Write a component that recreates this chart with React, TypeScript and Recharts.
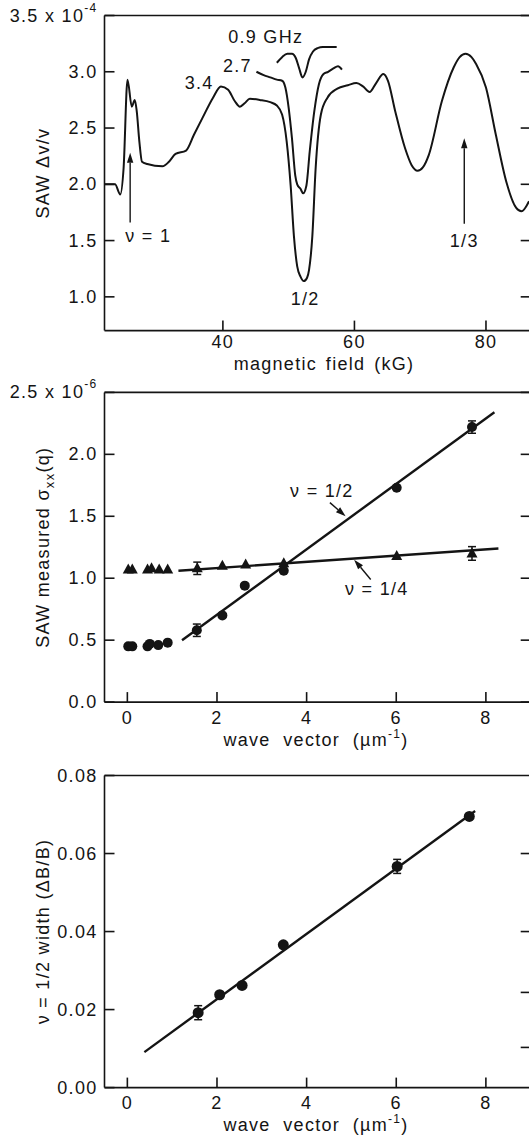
import type { ReactNode } from "react";
import {
  ComposedChart,
  ErrorBar,
  Line,
  ReferenceDot,
  ReferenceLine,
  Scatter,
  XAxis,
  YAxis,
} from "recharts";

const INK = "#141414";
const FONT = "'Liberation Sans', Arial, Helvetica, sans-serif";
const TXT = { fontFamily: FONT, fontSize: 18, letterSpacing: 1.3, fill: INK };
const TICK_LEN = 10;

// ---- top panel: SAW velocity shift vs magnetic field
const fieldTicks = [40, 60, 80];
const shiftTicks = [1.0, 1.5, 2.0, 2.5, 3.0, 3.5];

const field34 = [22.05, 23.6, 24.4, 24.9, 25.5, 26.15, 26.6, 26.9, 27.3, 27.7, 28.5, 30.8, 31.8, 32.8, 34.4, 35.6, 36.9, 38.5, 39.7, 40.8, 41.8, 42.6, 43.3, 44.1, 45.6, 47.2, 48.2, 49.0, 49.7, 50.3, 50.8, 51.3, 51.8, 52.3, 52.8, 53.1, 53.6, 54.1, 54.9, 55.9, 57.4, 59.0, 60.3, 61.3, 62.3, 63.3, 64.4, 65.1, 66.2, 67.7, 68.7, 69.6, 70.4, 71.3, 73.3, 75.1, 76.0, 76.9, 77.8, 78.5, 80.0, 81.5, 83.1, 84.6, 85.4, 86.55];
const shift34 = [2.0, 2.0, 1.91, 2.14, 2.93, 2.69, 2.75, 2.65, 2.38, 2.2, 2.18, 2.16, 2.2, 2.27, 2.3, 2.44, 2.59, 2.77, 2.87, 2.84, 2.74, 2.69, 2.72, 2.76, 2.75, 2.73, 2.7, 2.62, 2.38, 1.99, 1.54, 1.27, 1.18, 1.14, 1.17, 1.24, 1.54, 2.14, 2.62, 2.77, 2.85, 2.88, 2.9, 2.87, 2.82, 2.9, 2.98, 2.92, 2.65, 2.32, 2.17, 2.12, 2.15, 2.26, 2.74, 3.04, 3.13, 3.16, 3.13, 3.07, 2.86, 2.44, 2.02, 1.79, 1.76, 1.85];

const field27 = [45.1, 46.2, 47.2, 48.2, 49.0, 49.5, 50.0, 50.5, 51.0, 51.3, 51.8, 52.2, 52.7, 53.2, 53.9, 54.6, 55.3, 56.0, 56.8, 57.5, 58.1];
const shift27 = [3.0, 2.97, 2.95, 2.93, 2.92, 2.86, 2.68, 2.41, 2.08, 2.0, 1.96, 1.92, 1.99, 2.29, 2.65, 2.89, 2.98, 3.0, 3.03, 3.05, 3.02];

const field09 = [48.2, 49.0, 49.8, 50.5, 51.1, 51.6, 52.1, 52.6, 53.1, 53.7, 54.4, 55.2, 57.3];
const shift09 = [3.08, 3.13, 3.16, 3.16, 3.12, 3.03, 2.95, 3.0, 3.11, 3.18, 3.21, 3.22, 3.22];

// ---- middle panel: sigma_xx vs wave vector
const qTicks = [0, 2, 4, 6, 8];
const sigmaTicks = [0, 0.5, 1.0, 1.5, 2.0, 2.5];

const qHalf = [0.02, 0.11, 0.45, 0.5, 0.69, 0.9, 1.55, 2.12, 2.62, 3.49, 6.01, 7.69];
const sigmaHalf = [0.45, 0.45, 0.45, 0.47, 0.46, 0.48, 0.58, 0.7, 0.94, 1.06, 1.73, 2.22];
const errHalf = [0, 0, 0, 0, 0, 0, 0.05, 0, 0, 0, 0, 0.05];

const qQuarter = [0.02, 0.11, 0.45, 0.54, 0.71, 0.9, 1.56, 2.12, 2.64, 3.49, 6.01, 7.69];
const sigmaQuarter = [1.07, 1.07, 1.07, 1.08, 1.07, 1.07, 1.08, 1.1, 1.11, 1.12, 1.18, 1.2];
const errQuarter = [0, 0, 0, 0, 0, 0, 0.05, 0, 0, 0, 0, 0.055];

const fitHalfQ = [1.22, 8.19];
const fitHalfS = [0.5, 2.34];
const fitQuarterQ = [1.14, 8.28];
const fitQuarterS = [1.06, 1.24];

// ---- bottom panel: nu=1/2 width vs wave vector
const widthTicks = [0, 0.02, 0.04, 0.06, 0.08];
const widthTicksRight = [0.0103, 0.0244, 0.04, 0.06];

const qWidth = [1.58, 2.06, 2.56, 3.48, 6.02, 7.63];
const widthVals = [0.0192, 0.0238, 0.0262, 0.0366, 0.0567, 0.0695];
const widthErr = [0.0018, 0, 0, 0, 0.0018, 0];
const fitWidthQ = [0.38, 7.76];
const fitWidthW = [0.0091, 0.0709];

type Pt = { x: number; y: number; e: number };
const zip = (xs: number[], ys: number[], es?: number[]): Pt[] =>
  xs.map((x, i) => ({ x, y: ys[i], e: es ? es[i] : 0 }));

// annotations, in data units
const p1Notes = [
  { text: "0.9 GHz", x: 40.8, y: 3.305, anchor: "start" },
  { text: "2.7", x: 44.4, y: 3.054, anchor: "end" },
  { text: "3.4", x: 38.6, y: 2.9, anchor: "end" },
  { text: "\u03bd = 1", x: 25.15, y: 1.54, anchor: "start" },
  { text: "1/2", x: 52.5, y: 0.98, anchor: "middle" },
  { text: "1/3", x: 76.7, y: 1.5, anchor: "middle" },
];
const p1Arrows = [
  [25.9, 1.66, 25.9, 2.28],
  [76.7, 1.65, 76.7, 2.41],
];
const p2Notes = [
  { text: "\u03bd = 1/2", x: 3.63, y: 1.706, anchor: "start" },
  { text: "\u03bd = 1/4", x: 4.855, y: 0.916, anchor: "start" },
];
const p2Arrows = [
  [4.52, 1.61, 4.87, 1.5],
  [5.43, 0.99, 5.06, 1.15],
];

const LEFT_GAP = 7;

// ticks point into the plot on all four sides, so they are drawn here
function LeftTick(props: any) {
  const { x, y, payload, digits, topValue, exp } = props;
  const v = payload.value as number;
  return (
    <g>
      <line
        x1={x + LEFT_GAP}
        x2={x + LEFT_GAP + TICK_LEN}
        y1={y}
        y2={y}
        stroke={INK}
        strokeWidth={1.6}
      />
      <text x={x} y={y} textAnchor="end" dominantBaseline="central" style={TXT}>
        {v.toFixed(digits)}
        {exp && v === topValue ? (
          <>
            {" x 10"}
            <tspan dy={-8} fontSize={12}>
              {exp}
            </tspan>
          </>
        ) : null}
      </text>
    </g>
  );
}

function BottomTick(props: any) {
  const { x, y, payload, gap } = props;
  return (
    <g>
      <line
        x1={x}
        x2={x}
        y1={y - gap}
        y2={y - gap - TICK_LEN}
        stroke={INK}
        strokeWidth={1.6}
      />
      <text x={x} y={y} textAnchor="middle" dominantBaseline="central" style={TXT}>
        {payload.value}
      </text>
    </g>
  );
}

const TopTick = (p: any) => (
  <line x1={p.x} x2={p.x} y1={p.y} y2={p.y + TICK_LEN} stroke={INK} strokeWidth={1.6} />
);
const RightTick = (p: any) => (
  <line x1={p.x} x2={p.x - TICK_LEN} y1={p.y} y2={p.y} stroke={INK} strokeWidth={1.6} />
);

function XTitle(props: any) {
  const { viewBox, dx, dy, body, ws } = props;
  return (
    <text
      x={viewBox.x + dx}
      y={viewBox.y + dy}
      textAnchor="middle"
      dominantBaseline="central"
      style={{ ...TXT, whiteSpace: "pre", wordSpacing: ws ?? 0 }}
    >
      {body}
    </text>
  );
}

function YTitle(props: any) {
  const { viewBox, base, body } = props;
  const x = viewBox.x + base;
  const y = viewBox.y + viewBox.height / 2;
  return (
    <text x={x} y={y} transform={`rotate(-90 ${x} ${y})`} textAnchor="middle" style={TXT}>
      {body}
    </text>
  );
}

function Arrow(props: any) {
  const { x1, y1, x2, y2 } = props;
  const len = Math.hypot(x2 - x1, y2 - y1) || 1;
  const ux = (x2 - x1) / len;
  const uy = (y2 - y1) / len;
  const bx = x2 - ux * 10;
  const by = y2 - uy * 10;
  const pts = `${x2},${y2} ${bx - uy * 3.2},${by + ux * 3.2} ${bx + uy * 3.2},${by - ux * 3.2}`;
  return (
    <g>
      <line x1={x1} y1={y1} x2={bx} y2={by} stroke={INK} strokeWidth={1.4} />
      <polygon points={pts} fill={INK} />
    </g>
  );
}

const Disc = (p: any) => <circle cx={p.cx} cy={p.cy} r={p.r ?? 5} fill={INK} />;
const Tri = (p: any) => (
  <polygon
    points={`${p.cx},${p.cy - 6} ${p.cx - 5.5},${p.cy + 4} ${p.cx + 5.5},${p.cy + 4}`}
    fill={INK}
  />
);

const noteShape = (text: string, anchor: string) => (p: any) => (
  <text x={p.cx} y={p.cy} textAnchor={anchor} dominantBaseline="central" style={TXT}>
    {text}
  </text>
);

type PanelProps = {
  top: number;
  height: number;
  marginTop: number;
  xAxisHeight: number;
  xDomain: [number, number];
  xTicks: number[];
  xTickGap: number;
  yDomain: [number, number];
  yTicks: number[];
  yTicksRight: number[];
  yDigits: number;
  yExp?: string;
  xTitle: ReactNode;
  xTitleDx: number;
  xTitleDy: number;
  xTitleWs?: number;
  yTitle: ReactNode;
  children: ReactNode;
};

const AXIS = { stroke: INK, strokeWidth: 1.6 };

function Panel(p: PanelProps) {
  return (
    <div style={{ position: "absolute", left: 0, top: p.top }}>
      <ComposedChart
        width={545}
        height={p.height}
        margin={{ top: p.marginTop - 1, right: 13.3, bottom: 0, left: 0 }}
      >
        <XAxis
          xAxisId="b"
          dataKey="x"
          type="number"
          domain={p.xDomain}
          ticks={p.xTicks}
          interval={0}
          allowDataOverflow
          height={p.xAxisHeight}
          tickSize={0}
          tickMargin={p.xTickGap}
          axisLine={AXIS}
          tickLine={false}
          tick={<BottomTick gap={p.xTickGap} />}
          label={
            <XTitle dx={p.xTitleDx} dy={p.xTitleDy} body={p.xTitle} ws={p.xTitleWs} />
          }
        />
        <XAxis
          xAxisId="t"
          orientation="top"
          type="number"
          domain={p.xDomain}
          ticks={p.xTicks}
          interval={0}
          allowDataOverflow
          height={1}
          tickSize={0}
          tickMargin={0}
          axisLine={AXIS}
          tickLine={false}
          tick={<TopTick />}
        />
        <YAxis
          yAxisId="l"
          dataKey="y"
          type="number"
          domain={p.yDomain}
          ticks={p.yTicks}
          interval={0}
          allowDataOverflow
          width={104.5}
          tickSize={0}
          tickMargin={LEFT_GAP}
          axisLine={AXIS}
          tickLine={false}
          tick={
            <LeftTick
              digits={p.yDigits}
              topValue={p.yTicks[p.yTicks.length - 1]}
              exp={p.yExp}
            />
          }
          label={<YTitle base={49} body={p.yTitle} />}
        />
        <YAxis
          yAxisId="r"
          orientation="right"
          type="number"
          domain={p.yDomain}
          ticks={p.yTicksRight}
          interval={0}
          allowDataOverflow
          width={1}
          tickSize={0}
          tickMargin={0}
          axisLine={AXIS}
          tickLine={false}
          tick={<RightTick />}
        />
        {p.children}
      </ComposedChart>
    </div>
  );
}

const curveProps = {
  xAxisId: "b",
  yAxisId: "l",
  dataKey: "y",
  stroke: INK,
  strokeWidth: 2,
  dot: false,
  activeDot: false,
  isAnimationActive: false,
} as const;

const wave = (
  <>
    {"wave  vector  (\u00b5m"}
    <tspan dy={-6} fontSize={12}>
      -1
    </tspan>
    <tspan dy={6}>)</tspan>
  </>
);

export default function App() {
  return (
    <div
      style={{
        position: "absolute",
        left: 0,
        top: 0,
        width: 529,
        height: 1135,
        overflow: "hidden",
        background: "#fff",
      }}
    >
      <Panel
        top={0}
        height={380}
        marginTop={15.5}
        xAxisHeight={49.4}
        xDomain={[22, 86.8]}
        xTicks={fieldTicks}
        xTickGap={11.2}
        yDomain={[0.7, 3.5]}
        yTicks={shiftTicks}
        yTicksRight={shiftTicks}
        yDigits={1}
        yExp="-4"
        xTitle={"magnetic field (kG)"}
        xTitleDx={219.5}
        xTitleDy={33.1}
        xTitleWs={2.5}
        yTitle={"SAW \u0394v/v"}
      >
        <Line {...curveProps} type="monotone" data={zip(field34, shift34)} />
        <Line {...curveProps} type="monotone" data={zip(field27, shift27)} />
        <Line {...curveProps} type="monotone" data={zip(field09, shift09)} />
        {p1Arrows.map((a, i) => (
          <ReferenceLine
            key={`a${i}`}
            xAxisId="b"
            yAxisId="l"
            segment={[
              { x: a[0], y: a[1] },
              { x: a[2], y: a[3] },
            ]}
            shape={Arrow}
          />
        ))}
        {p1Notes.map((n) => (
          <ReferenceDot
            key={n.text}
            xAxisId="b"
            yAxisId="l"
            x={n.x}
            y={n.y}
            r={1}
            shape={noteShape(n.text, n.anchor)}
          />
        ))}
      </Panel>

      <Panel
        top={370}
        height={380}
        marginTop={22.4}
        xAxisHeight={47.9}
        xDomain={[-0.51, 9.0]}
        xTicks={qTicks}
        xTickGap={15.9}
        yDomain={[0, 2.5]}
        yTicks={sigmaTicks}
        yTicksRight={sigmaTicks}
        yDigits={1}
        yExp="-6"
        xTitle={wave}
        xTitleDx={211.5}
        xTitleDy={38}
        yTitle={
          <>
            {"SAW measured \u03c3"}
            <tspan dy={5} fontSize={13}>
              xx
            </tspan>
            <tspan dy={-5}>(q)</tspan>
          </>
        }
      >
        <Line {...curveProps} strokeWidth={2.4} type="linear" data={zip(fitHalfQ, fitHalfS)} />
        <Line {...curveProps} strokeWidth={2.4} type="linear" data={zip(fitQuarterQ, fitQuarterS)} />
        <Scatter
          xAxisId="b"
          yAxisId="l"
          data={zip(qHalf, sigmaHalf, errHalf)}
          shape={<Disc r={5} />}
          isAnimationActive={false}
        >
          <ErrorBar dataKey="e" direction="y" width={4} stroke={INK} strokeWidth={1.5} />
        </Scatter>
        <Scatter
          xAxisId="b"
          yAxisId="l"
          data={zip(qQuarter, sigmaQuarter, errQuarter)}
          shape={<Tri />}
          isAnimationActive={false}
        >
          <ErrorBar dataKey="e" direction="y" width={4} stroke={INK} strokeWidth={1.5} />
        </Scatter>
        {p2Arrows.map((a, i) => (
          <ReferenceLine
            key={`b${i}`}
            xAxisId="b"
            yAxisId="l"
            segment={[
              { x: a[0], y: a[1] },
              { x: a[2], y: a[3] },
            ]}
            shape={Arrow}
          />
        ))}
        {p2Notes.map((n) => (
          <ReferenceDot
            key={n.text}
            xAxisId="b"
            yAxisId="l"
            x={n.x}
            y={n.y}
            r={1}
            shape={noteShape(n.text, n.anchor)}
          />
        ))}
      </Panel>

      <Panel
        top={750}
        height={385}
        marginTop={25.5}
        xAxisHeight={47.4}
        xDomain={[-0.51, 9.0]}
        xTicks={qTicks}
        xTickGap={15.2}
        yDomain={[0, 0.08]}
        yTicks={widthTicks}
        yTicksRight={widthTicksRight}
        yDigits={2}
        xTitle={wave}
        xTitleDx={211.5}
        xTitleDy={37.3}
        yTitle={"\u03bd = 1/2 width (\u0394B/B)"}
      >
        <Line {...curveProps} strokeWidth={2.4} type="linear" data={zip(fitWidthQ, fitWidthW)} />
        <Scatter
          xAxisId="b"
          yAxisId="l"
          data={zip(qWidth, widthVals, widthErr)}
          shape={<Disc r={5.5} />}
          isAnimationActive={false}
        >
          <ErrorBar dataKey="e" direction="y" width={4} stroke={INK} strokeWidth={1.5} />
        </Scatter>
      </Panel>
    </div>
  );
}
